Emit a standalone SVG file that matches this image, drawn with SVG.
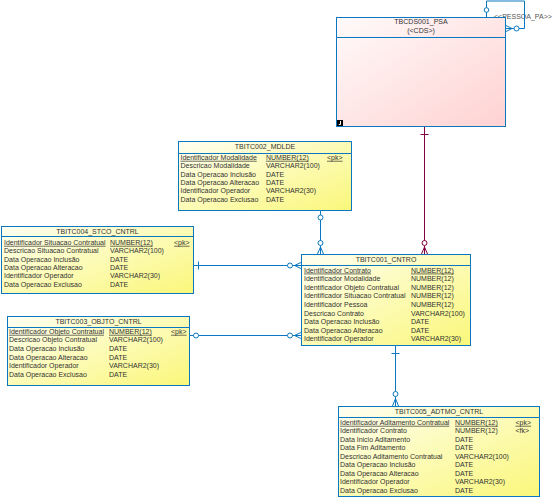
<svg xmlns="http://www.w3.org/2000/svg" width="560" height="498" viewBox="0 0 560 498">
<defs>
<linearGradient id="gy" x1="0" y1="0" x2="1" y2="1">
<stop offset="0" stop-color="#fffff2"/>
<stop offset="1" stop-color="#faf77a"/>
</linearGradient>
<linearGradient id="gp" x1="0" y1="0" x2="1" y2="1">
<stop offset="0" stop-color="#fffafa"/>
<stop offset="1" stop-color="#ffd2d2"/>
</linearGradient>
<style>
text{font-family:"Liberation Sans",Arial,sans-serif;font-size:7px;fill:#333}
.t{text-anchor:middle}
.u{text-decoration:underline}
.box{fill:url(#gy);stroke:#0a78c0;stroke-width:1}
.pbox{fill:url(#gp);stroke:#0a78c0;stroke-width:1}
.hl{stroke:#0a78c0;stroke-width:1}
.c{fill:none;stroke:#0a78c0;stroke-width:1}
.m{fill:none;stroke:#800040;stroke-width:1}
.o{fill:#fff;stroke:#0a78c0;stroke-width:1}
.om{fill:#fff;stroke:#800040;stroke-width:1}
.lbl{fill:#555}
</style>
</defs>

<g id="connectors">
<!-- self reference loop on TBCDS001 -->
<text class="lbl" x="494" y="19">&lt;&lt;PESSOA_PA&gt;&gt;</text>
<path class="c" d="M486.5,17 V1 H524.5 V28.5 H506"/>
<circle class="o" cx="486.5" cy="10" r="2.3"/>
<circle class="o" cx="516.5" cy="28.5" r="2.5"/>
<path class="c" d="M512,28.5 L506,25.5 M512,28.5 L506,31.5"/>
<!-- TBITC002 -> TBITC001 -->
<path class="c" d="M320.5,210 V254"/>
<circle class="o" cx="320.5" cy="217.5" r="2.5"/>
<circle class="o" cx="320.5" cy="243" r="2.5"/>
<path class="c" d="M320.5,247 L317.5,254 M320.5,247 L323.5,254"/>
<!-- TBITC004 -> TBITC001 -->
<path class="c" d="M194,265.5 H301"/>
<path class="c" d="M198.5,261.5 V269.5"/>
<circle class="o" cx="290" cy="265.5" r="2.5"/>
<path class="c" d="M294.5,265.5 L301,262.5 M294.5,265.5 L301,268.5"/>
<!-- TBITC003 -> TBITC001 -->
<path class="c" d="M190,335.5 H301"/>
<circle class="o" cx="196" cy="335.5" r="2.5"/>
<circle class="o" cx="290" cy="335.5" r="2.5"/>
<path class="c" d="M294.5,335.5 L301,332.5 M294.5,335.5 L301,338.5"/>
<!-- TBCDS001 -> TBITC001 -->
<path class="m" d="M424.5,127 V254"/>
<path class="m" d="M420.5,134.5 H428.5"/>
<circle class="om" cx="424.5" cy="243" r="2.5"/>
<path class="m" d="M424.5,247 L421.5,254 M424.5,247 L427.5,254"/>
<!-- TBITC001 -> TBITC005 -->
<path class="c" d="M395.5,346 V406"/>
<path class="c" d="M391.5,353.5 H399.5"/>
<circle class="o" cx="395.5" cy="394" r="2.5"/>
<path class="c" d="M395.5,398.5 L392.5,406 M395.5,398.5 L398.5,406"/>
</g>

<g id="TBCDS001_PSA">
<rect class="pbox" x="336.5" y="17.5" width="169" height="109"/>
<line class="hl" x1="336.5" y1="37.5" x2="505.5" y2="37.5"/>
<text class="t" x="421" y="24">TBCDS001_PSA</text>
<text class="t" x="421" y="33">(&lt;CDS&gt;)</text>
<rect x="337" y="120" width="6" height="6" fill="#000"/>
<path d="M340.5,121 V124.5 H338.8" stroke="#fff" stroke-width="1" fill="none"/>
</g>

<g id="TBITC002_MDLDE">
<rect class="box" x="178.5" y="141.5" width="173" height="69"/>
<line class="hl" x1="178.5" y1="153.5" x2="351.5" y2="153.5"/>
<text class="t" x="265" y="148.5">TBITC002_MDLDE</text>
<text class="u" x="180.5" y="159.8">Identificador Modalidade</text><text class="u" x="266" y="159.8">NUMBER(12)</text><text class="u" x="327" y="159.8">&lt;pk&gt;</text>
<text x="180.5" y="168.2">Descricao Modalidade</text><text x="266" y="168.2">VARCHAR2(100)</text>
<text x="180.5" y="176.6">Data Operacao Inclusão</text><text x="266" y="176.6">DATE</text>
<text x="180.5" y="185">Data Operacao Alteracao</text><text x="266" y="185">DATE</text>
<text x="180.5" y="193.4">Identificador Operador</text><text x="266" y="193.4">VARCHAR2(30)</text>
<text x="180.5" y="201.8">Data Operacao Exclusao</text><text x="266" y="201.8">DATE</text>
</g>

<g id="TBITC004_STCO_CNTRL">
<rect class="box" x="1.5" y="226.5" width="192" height="67"/>
<line class="hl" x1="1.5" y1="236.5" x2="193.5" y2="236.5"/>
<text class="t" x="97.5" y="234">TBITC004_STCO_CNTRL</text>
<text class="u" x="4" y="244.8">Identificador Situacao Contratual</text><text class="u" x="110" y="244.8">NUMBER(12)</text><text class="u" x="174" y="244.8">&lt;pk&gt;</text>
<text x="4" y="253.2">Descricao Situacao Contratual</text><text x="110" y="253.2">VARCHAR2(100)</text>
<text x="4" y="261.6">Data Operacao Inclusão</text><text x="110" y="261.6">DATE</text>
<text x="4" y="270">Data Operacao Alteracao</text><text x="110" y="270">DATE</text>
<text x="4" y="278.4">Identificador Operador</text><text x="110" y="278.4">VARCHAR2(30)</text>
<text x="4" y="286.8">Data Operacao Exclusao</text><text x="110" y="286.8">DATE</text>
</g>

<g id="TBITC003_OBJTO_CNTRL">
<rect class="box" x="7.5" y="316.5" width="182" height="69"/>
<line class="hl" x1="7.5" y1="327.5" x2="189.5" y2="327.5"/>
<text class="t" x="98.5" y="324">TBITC003_OBJTO_CNTRL</text>
<text class="u" x="9" y="333.8">Identificador Objeto Contratual</text><text class="u" x="109" y="333.8">NUMBER(12)</text><text class="u" x="171" y="333.8">&lt;pk&gt;</text>
<text x="9" y="342.4">Descricao Objeto Contratual</text><text x="109" y="342.4">VARCHAR2(100)</text>
<text x="9" y="351">Data Operacao Inclusão</text><text x="109" y="351">DATE</text>
<text x="9" y="359.6">Data Operacao Alteracao</text><text x="109" y="359.6">DATE</text>
<text x="9" y="368.2">Identificador Operador</text><text x="109" y="368.2">VARCHAR2(30)</text>
<text x="9" y="376.8">Data Operacao Exclusao</text><text x="109" y="376.8">DATE</text>
</g>

<g id="TBITC001_CNTRO">
<rect class="box" x="301.5" y="254.5" width="169" height="91"/>
<line class="hl" x1="301.5" y1="265.5" x2="470.5" y2="265.5"/>
<text class="t" x="386" y="262">TBITC001_CNTRO</text>
<text class="u" x="304" y="272.6">Identificador Contrato</text><text class="u" x="411" y="272.6">NUMBER(12)</text>
<text x="304" y="281.2">Identificador Modalidade</text><text x="411" y="281.2">NUMBER(12)</text>
<text x="304" y="289.8">Identificador Objeto Contratual</text><text x="411" y="289.8">NUMBER(12)</text>
<text x="304" y="298.4">Identificador Situacao Contratual</text><text x="411" y="298.4">NUMBER(12)</text>
<text x="304" y="307">Identificador Pessoa</text><text x="411" y="307">NUMBER(12)</text>
<text x="304" y="315.6">Descricao Contrato</text><text x="411" y="315.6">VARCHAR2(100)</text>
<text x="304" y="324.2">Data Operacao Inclusão</text><text x="411" y="324.2">DATE</text>
<text x="304" y="332.8">Data Operacao Alteracao</text><text x="411" y="332.8">DATE</text>
<text x="304" y="341.4">Identificador Operador</text><text x="411" y="341.4">VARCHAR2(30)</text>
</g>

<g id="TBITC005_ADTMO_CNTRL">
<rect class="box" x="338.5" y="406.5" width="201" height="90"/>
<line class="hl" x1="338.5" y1="417.5" x2="539.5" y2="417.5"/>
<text class="t" x="439" y="414">TBITC005_ADTMO_CNTRL</text>
<text class="u" x="340" y="424.8">Identificador Aditamento Contratual</text><text class="u" x="455" y="424.8">NUMBER(12)</text><text class="u" x="515.5" y="424.8">&lt;pk&gt;</text>
<text x="340" y="433.3">Identificador Contrato</text><text x="455" y="433.3">NUMBER(12)</text><text x="515.5" y="433.3">&lt;fk&gt;</text>
<text x="340" y="441.8">Data Inicio Aditamento</text><text x="455" y="441.8">DATE</text>
<text x="340" y="450.3">Data Fim Aditamento</text><text x="455" y="450.3">DATE</text>
<text x="340" y="458.8">Descricao Aditamento Contratual</text><text x="455" y="458.8">VARCHAR2(100)</text>
<text x="340" y="467.3">Data Operacao Inclusão</text><text x="455" y="467.3">DATE</text>
<text x="340" y="475.8">Data Operacao Alteracao</text><text x="455" y="475.8">DATE</text>
<text x="340" y="484.3">Identificador Operador</text><text x="455" y="484.3">VARCHAR2(30)</text>
<text x="340" y="492.8">Data Operacao Exclusao</text><text x="455" y="492.8">DATE</text>
</g>
</svg>
